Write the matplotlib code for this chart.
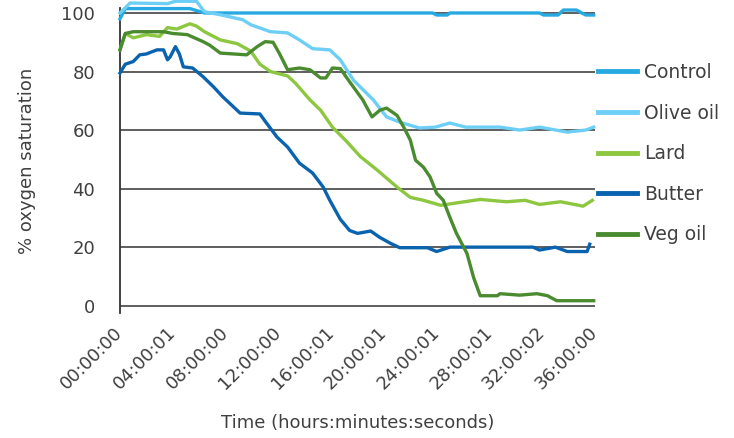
import matplotlib
matplotlib.use("Agg")
import matplotlib.pyplot as plt

plt.rcParams["font.family"] = ["DejaVu Sans"]

# ───────────── data (hours, % oxygen saturation) ─────────────
control_t = [0, 0.4, 2.3, 5.3, 6.4, 23.7, 24.0, 24.8, 25.0, 31.8, 32.1, 33.2, 33.6, 34.6, 35.0, 35.3, 35.9]
control_v = [98, 101.5, 101.5, 101.5, 100, 100, 99.3, 99.3, 100, 100, 99.3, 99.3, 101, 101, 100, 99.3, 99.3]

olive_t = [0, 0.76, 3.6, 4.2, 5.8, 6.4, 7.6, 9.3, 9.9, 11.4, 12.7, 13.6, 14.6, 15.9, 16.7, 17.7,
           19.2, 20.2, 21.2, 22.7, 23.9, 25.0, 26.2, 28.8, 30.3, 31.8, 33.9, 35.3, 35.9]
olive_v = [100, 103.4, 103.2, 104, 104, 100.4, 99.4, 97.7, 96, 93.6, 93.2, 90.8, 87.8, 87.4, 84, 77,
           70.3, 64.5, 62.7, 60.7, 61, 62.4, 61, 61, 60, 61, 59.3, 60, 61]

lard_t = [0, 0.4, 1.0, 2.0, 3.0, 3.6, 4.3, 5.3, 5.8, 6.4, 7.6, 8.9, 9.9, 10.6, 11.4, 12.7, 13.3,
          14.4, 15.2, 16.1, 17.2, 18.2, 19.5, 21.0, 22.0, 23.0, 24.3, 25.8, 27.3, 29.3, 30.7,
          31.8, 33.4, 35.1, 35.8]
lard_v = [87.4, 93, 91.5, 92.6, 92, 95, 94.5, 96.3, 95.5, 93.6, 90.8, 89.5, 87, 82.5, 80, 78.5, 76,
          70.3, 66.8, 61, 56, 51, 46.3, 40.5, 37, 36, 34.3, 35.3, 36.3, 35.5, 36,
          34.6, 35.5, 34, 36]

butter_t = [0, 0.4, 1.0, 1.5, 2.0, 2.8, 3.3, 3.6, 3.8, 4.2, 4.5, 4.8, 5.5, 6.3, 7.1, 7.8, 8.3, 9.1,
            10.6, 11.1, 11.9, 12.7, 13.6, 14.6, 15.4, 15.9, 16.7, 17.4, 18.0, 19.0, 19.7, 20.5,
            21.2, 23.3, 24.0, 25.0, 31.3, 31.8, 33.0, 33.9, 35.4, 35.6]
butter_v = [79.5, 82.5, 83.4, 85.7, 86, 87.4, 87.4, 84, 85, 88.5, 86, 81.6, 81.2, 78.2, 74.7, 71.3, 69.2, 65.8,
            65.5, 62.4, 57.6, 54.2, 48.7, 45.3, 40.5, 36, 29.5, 25.7, 24.7, 25.5, 23.3, 21.3,
            19.8, 19.8, 18.5, 20, 20, 19, 20, 18.5, 18.5, 21]

veg_t = [0, 0.4, 1.0, 3.3, 4.0, 5.1, 6.3, 6.8, 7.6, 9.6, 10.4, 11.0, 11.6, 12.1, 12.7, 13.6, 14.4,
         15.2, 15.6, 16.1, 16.7, 17.4, 18.4, 19.1, 19.7, 20.2, 21.0, 21.5, 22.0, 22.4, 23.0, 23.5,
         24.0, 24.5, 25.0, 25.5, 26.3, 26.8, 27.3, 28.6, 28.8, 30.3, 31.6, 32.4, 33.1, 35.9]
veg_v = [87.4, 93, 93.6, 93.6, 93, 92.6, 90.2, 89, 86.3, 85.7, 88.5, 90.2, 90, 86, 80.6, 81.2, 80.6,
         77.8, 77.8, 81.2, 81, 76.5, 70.3, 64.5, 66.8, 67.5, 65, 61, 56.6, 49.7, 47.3, 44,
         38.4, 36, 30.2, 24.7, 17.8, 9.6, 3.4, 3.4, 4.1, 3.6, 4.1, 3.4, 1.7, 1.7]

series = [
    ("Control", control_t, control_v, "#27a9e1"),
    ("Olive oil", olive_t, olive_v, "#6dcff6"),
    ("Lard", lard_t, lard_v, "#8dc63f"),
    ("Butter", butter_t, butter_v, "#0a63ae"),
    ("Veg oil", veg_t, veg_v, "#4a8b30"),
]

tick_hours = [0, 4, 8, 12, 16, 20, 24, 28, 32, 36]
tick_labels = ["00:00:00", "04:00:01", "08:00:00", "12:00:00", "16:00:01",
               "20:00:01", "24:00:01", "28:00:01", "32:00:02", "36:00:00"]
y_ticks = [0, 20, 40, 60, 80, 100]

TXT = "#404040"

# ───────────── plot ─────────────
fig = plt.figure(figsize=(7.34, 4.38), dpi=100)
ax = fig.add_axes([120 / 734, 1 - 313 / 438, 475 / 734, 305 / 438])

for y in y_ticks:
    ax.axhline(y, color="#333333", linewidth=1.1, zorder=1)

for name, t, v, col in series:
    ax.plot(t, v, color=col, linewidth=2.4, label=name, clip_on=False, zorder=3)

ax.set_xlim(0, 36)
ax.set_ylim(-2.5, 101.7)

ax.set_xticks(tick_hours)
ax.set_xticklabels(tick_labels, rotation=45, ha="right", va="center",
                   rotation_mode="anchor", fontsize=13, color=TXT)
ax.set_yticks(y_ticks)
ax.set_yticklabels([str(y) for y in y_ticks], fontsize=13, color=TXT)
ax.tick_params(axis="both", length=0)
ax.tick_params(axis="y", pad=18)
ax.tick_params(axis="x", pad=12)

for s in ["top", "right", "bottom"]:
    ax.spines[s].set_visible(False)
ax.spines["left"].set_color("#333333")
ax.spines["left"].set_linewidth(1.3)

ax.set_xlabel("Time (hours:minutes:seconds)", fontsize=13, color=TXT, labelpad=15)
ax.set_ylabel("% oxygen saturation", fontsize=13, color=TXT, labelpad=18)

leg = ax.legend(
    loc="upper left",
    bbox_to_anchor=(598 / 734, 1 - 63 / 438),
    bbox_transform=fig.transFigure,
    frameon=False,
    fontsize=13.5,
    handlelength=2.1,
    handletextpad=0.35,
    labelspacing=1.15,
    borderpad=0,
    borderaxespad=0,
)
for txt in leg.get_texts():
    txt.set_color(TXT)
for ln in leg.get_lines():
    ln.set_linewidth(3.5)

fig.savefig("out.png", dpi=100)
